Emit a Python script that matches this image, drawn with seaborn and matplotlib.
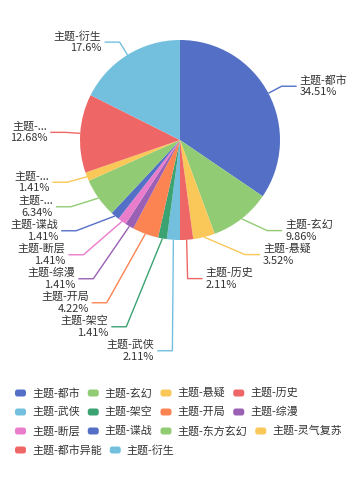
import matplotlib
matplotlib.use('Agg')
import matplotlib.pyplot as plt
from matplotlib.patches import FancyBboxPatch
import numpy as np
import seaborn as sns

names = ['主题-都市', '主题-玄幻', '主题-悬疑', '主题-历史', '主题-武侠', '主题-架空', '主题-开局',
         '主题-综漫', '主题-断层', '主题-谍战', '主题-东方玄幻', '主题-灵气复苏', '主题-都市异能', '主题-衍生']
percents = [34.51, 9.86, 3.52, 2.11, 2.11, 1.41, 4.22, 1.41, 1.41, 1.41, 6.34, 1.41, 12.68, 17.6]
palette = ['#5470c6', '#91cc75', '#fac858', '#ee6666', '#73c0de', '#3ba272', '#fc8452', '#9a60b4', '#ea7ccc']
colors = [palette[i % len(palette)] for i in range(len(names))]

sns.set_theme(style='white')
plt.rcParams['font.family'] = ['Noto Sans CJK SC', 'DejaVu Sans']

fs = 7.9  # ~11px
txt_color = '#333333'

fig = plt.figure(figsize=(3.6, 4.8), dpi=100)
ax = fig.add_axes([0, 0, 1, 1])
cx, cy, r = 180, 140, 100

# axes in pixel units with y going down, so counterclock in data = clockwise on screen
ax.pie(percents, colors=colors, center=(cx, cy), radius=r, startangle=-90,
       counterclock=True, wedgeprops=dict(linewidth=0))
ax.set_xlim(0, 360)
ax.set_ylim(480, 0)
ax.set_aspect('auto')
ax.axis('off')

renderer = fig.canvas.get_renderer()


def text_width(s):
    t = ax.text(0, 0, s, fontsize=fs)
    w = t.get_window_extent(renderer).width
    t.remove()
    return w


# label layout, roughly like echarts: length 15 / length2 15, shift on y, realign on ellipse
len1, len2 = 15, 15
total = sum(percents)
cum = np.cumsum([0] + percents[:-1])
mids = cum + np.array(percents) / 2
ang = np.deg2rad(-90 + mids / total * 360)

items = []
for i, a in enumerate(ang):
    side = 1 if np.cos(a) >= 0 else -1
    items.append(dict(i=i, side=side,
                      edge=(cx + r * np.cos(a), cy + r * np.sin(a)),
                      x=cx + (r + len1) * np.cos(a) + side * len2,
                      y=cy + (r + len1) * np.sin(a)))

label_h = 24
for side in (1, -1):
    lst = sorted([it for it in items if it['side'] == side], key=lambda it: it['y'])
    shifted = False
    for k in range(1, len(lst)):
        if lst[k]['y'] < lst[k - 1]['y'] + label_h:
            lst[k]['y'] = lst[k - 1]['y'] + label_h
            shifted = True
    if not shifted:
        continue
    rA = r + len1
    for semi in ([it for it in lst if it['y'] <= cy], [it for it in lst if it['y'] > cy]):
        if not semi:
            continue
        far = max(semi, key=lambda it: abs(it['y'] - cy))
        dy = abs(far['y'] - cy)
        dx = far['x'] - cx - len2 * side
        rB = np.sqrt(dy * dy / (1 - dx * dx / rA / rA)) if abs(dx) < rA else rA
        for it in semi:
            dy = abs(it['y'] - cy)
            ndx = np.sqrt(max(0.0, 1 - dy * dy / rB / rB)) * rA
            it['x'] = cx + (ndx + len2) * side

gap = 3
for it in items:
    i, side = it['i'], it['side']
    ex, ey = it['edge']
    ax.plot([ex, it['x'] - side * len2, it['x']], [ey, it['y'], it['y']],
            color=colors[i], lw=1, solid_capstyle='butt')
    tx = it['x'] + side * gap
    avail = (360 - tx - 5) if side > 0 else (tx - 5)
    name = names[i]
    if text_width(name) > avail:
        name = name.split('-')[0] + '-...'
    ha = 'left' if side > 0 else 'right'
    ax.text(tx, it['y'] - 6, name, fontsize=fs, color=txt_color, ha=ha, va='center')
    ax.text(tx, it['y'] + 6, '{:g}%'.format(percents[i]), fontsize=fs, color=txt_color,
            ha=ha, va='center')

# legend, flow layout
icon_w, icon_h = 11, 7
x0, y = 15, 393
row_h = 19
item_gap = 8
x = x0
for name, col in zip(names, colors):
    tw = text_width(name)
    w = icon_w + 6 + tw
    if x + w > 352 and x > x0:
        x = x0
        y += row_h
    ax.add_patch(FancyBboxPatch((x, y - icon_h / 2), icon_w, icon_h,
                                boxstyle='round,pad=0,rounding_size=2.5',
                                facecolor=col, edgecolor='none'))
    ax.text(x + icon_w + 6, y, name, fontsize=fs, color=txt_color, ha='left', va='center')
    x += w + item_gap

fig.savefig('out.png', dpi=100, facecolor='white')
